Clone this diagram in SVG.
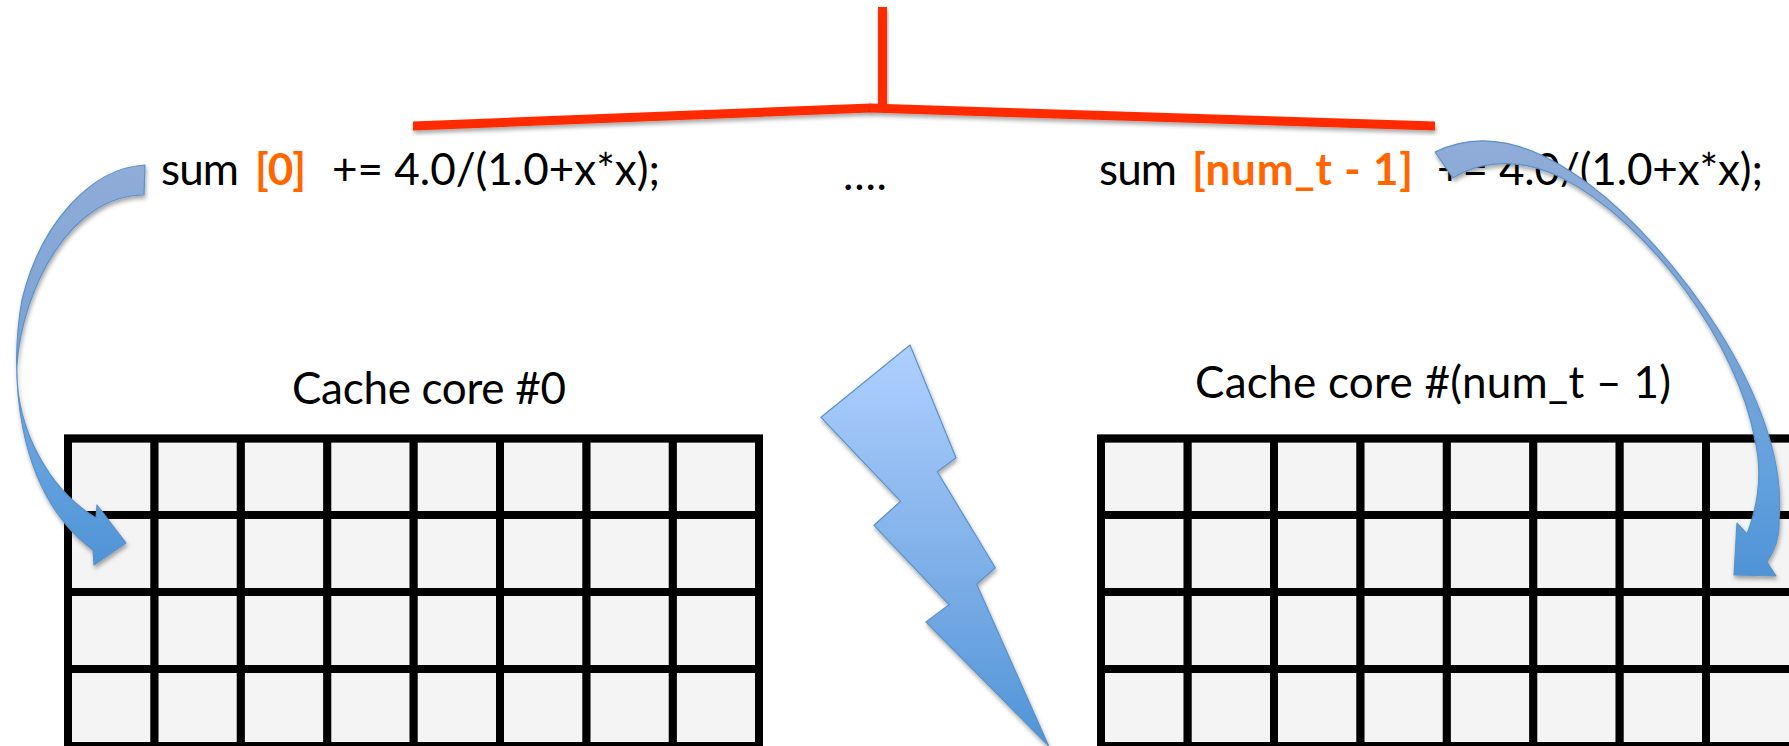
<svg xmlns="http://www.w3.org/2000/svg" width="1789" height="746" viewBox="0 0 1789 746">
<style>
text{font-family:"Lato","Carlito","Liberation Sans",sans-serif;font-size:44px;fill:#000}
.o{font-weight:700;fill:#ff6600}
.grid{fill:none;stroke:#000;stroke-width:8;filter:url(#halo)}
.bg{fill:#f4f4f4}
.red{fill:#ff2a00;filter:url(#sh)}
.sh{stroke:#5b92c8;stroke-width:1.2;stroke-linejoin:round;filter:url(#sh)}
</style>
<defs>
<filter id="sh" x="-20%" y="-20%" width="140%" height="140%"><feDropShadow dx="1" dy="3" stdDeviation="2" flood-color="#000" flood-opacity="0.35"/></filter>
<filter id="halo" x="-2%" y="-2%" width="104%" height="104%"><feDropShadow dx="0" dy="0" stdDeviation="0.6" flood-color="#000" flood-opacity="0.5"/></filter>
<linearGradient id="arrow" x1="0" y1="0" x2="0" y2="1"><stop offset="0" stop-color="#90acd8"/><stop offset="0.45" stop-color="#7ba3d3"/><stop offset="0.75" stop-color="#64a1df"/><stop offset="1" stop-color="#4f94d6"/></linearGradient>
<linearGradient id="bolt" x1="0" y1="0" x2="0" y2="1"><stop offset="0" stop-color="#afd0ff"/><stop offset="0.5" stop-color="#83b2ea"/><stop offset="1" stop-color="#4f94d6"/></linearGradient>
</defs>
<rect width="1789" height="746" fill="#fff"/>
<g id="grid-left">
<rect class="bg" x="68" y="438.5" width="691" height="307.5"/>
<path class="grid" d="M68,438.5V746M154.4,438.5V746M240.8,438.5V746M327.2,438.5V746M413.6,438.5V746M500,438.5V746M586.4,438.5V746M672.8,438.5V746M759,438.5V746M64,438.5H763M64,515H763M64,592H763M64,669H763M64,746H763"/>
</g>
<g id="grid-right">
<rect class="bg" x="1101" y="438.5" width="688" height="307.5"/>
<path class="grid" d="M1101,438.5V746M1187.6,438.5V746M1274,438.5V746M1360.4,438.5V746M1446.8,438.5V746M1533.2,438.5V746M1619.6,438.5V746M1706,438.5V746M1097,438.5H1795M1097,515H1795M1097,592H1795M1097,669H1795M1097,746H1795"/>
</g>
<g id="label-cache-0"><text x="292" y="404" textLength="274">Cache core #0</text></g>
<g id="label-cache-n"><text x="1195" y="398" textLength="476">Cache core #(num_t – 1)</text></g>
<g id="expr-0"><text x="161" y="185" textLength="78">sum</text><text class="o" x="255" y="185" textLength="51">[0]</text><text x="332" y="185" textLength="328">+= 4.0/(1.0+x*x);</text></g>
<g id="dots"><text x="843" y="190" textLength="44">....</text></g>
<g id="expr-n"><text x="1099" y="185" textLength="78">sum</text><text class="o" x="1192" y="185" textLength="221">[num_t - 1]</text><text x="1437" y="185" textLength="326">+= 4.0/(1.0+x*x);</text></g>
<g id="bolt-shape"><polygon class="sh" fill="url(#bolt)" points="910,345 956,457.7 937.3,471.7 995.3,567.7 976.7,584.3 1048.7,746 926,622 949,604.7 874,525.3 900.7,501.3 821,417.3"/></g>
<g id="connectors">
<rect class="red" x="878" y="7" width="9" height="100"/>
<polygon class="red" points="413,121.5 413,130.5 871,112.5 871,103.5"/>
<polygon class="red" points="870,103.5 870,112.5 1435,130.5 1435,121.5"/>
<path class="sh" fill="url(#arrow)" d="M145,165C90,168 40,225 22,300C10,365 12,490 93,550L94,565L126,543L97,505L96,518C50,490 15,430 17,365C22,290 70,195 144,195Z"/>
<path class="sh" fill="url(#arrow)" d="M1435,152C1480,130 1530,140 1590,185C1670,245 1790,400 1779,520C1780,535 1775,550 1767,562L1776,576L1734,575L1737,523L1747,534C1760,500 1762,470 1755,440C1738,345 1650,222 1560,177C1525,160 1485,158 1453,178Z"/>
</g>
</svg>
